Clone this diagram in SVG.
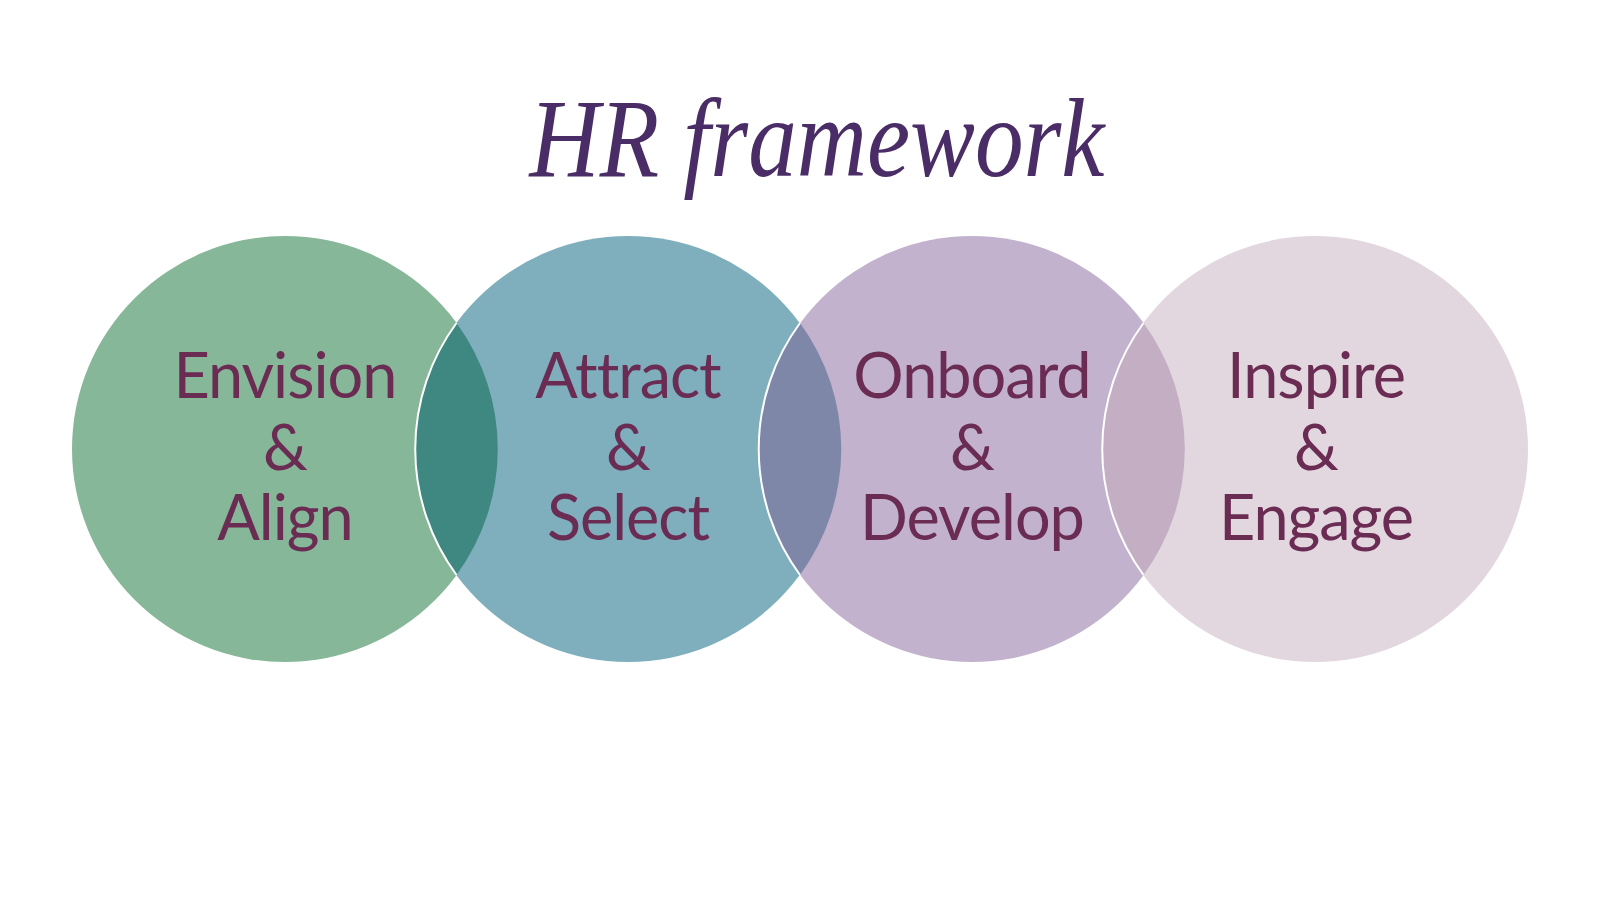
<svg xmlns="http://www.w3.org/2000/svg" width="1600" height="900" viewBox="0 0 1600 900">
<style>
.lbl{font-family:Lato,"Open Sans","Liberation Sans",sans-serif;font-size:63px;letter-spacing:-1px;fill:#6b2c54;text-anchor:middle}
.edge{fill:none;stroke:#ffffff;stroke-width:2}
.title{font-family:"Liberation Serif",serif;font-style:italic;font-size:112px;fill:#4a2d67}
</style>
<rect width="1600" height="900" fill="#ffffff"/>
<g id="circle-envision"><circle cx="285" cy="449" r="213" fill="#86b798"/></g>
<g id="circle-attract"><circle cx="628" cy="449" r="213" fill="#7faebd"/></g>
<g id="circle-onboard"><circle cx="972" cy="449" r="213" fill="#c2b2cd"/></g>
<g id="circle-inspire"><circle cx="1315" cy="449" r="213" fill="#e2d7de"/></g>
<g id="overlaps">
<path d="M456.5,323 A213,213 0 0 0 456.5,575 A213,213 0 0 0 456.5,323 Z" fill="#3f8781"/>
<path d="M800,323 A213,213 0 0 0 800,575 A213,213 0 0 0 800,323 Z" fill="#7f87a9"/>
<path d="M1143.5,323 A213,213 0 0 0 1143.5,575 A213,213 0 0 0 1143.5,323 Z" fill="#c3aec4"/>
<path class="edge" d="M456.5,323 A213,213 0 0 0 456.5,575"/>
<path class="edge" d="M800,323 A213,213 0 0 0 800,575"/>
<path class="edge" d="M1143.5,323 A213,213 0 0 0 1143.5,575"/>
</g>
<g id="labels">
<text class="lbl" x="285" y="398">Envision</text>
<text class="lbl" x="285" y="470">&amp;</text>
<text class="lbl" x="285" y="540">Align</text>
<text class="lbl" x="628" y="398">Attract</text>
<text class="lbl" x="628" y="470">&amp;</text>
<text class="lbl" x="628" y="540">Select</text>
<text class="lbl" x="972" y="398">Onboard</text>
<text class="lbl" x="972" y="470">&amp;</text>
<text class="lbl" x="972" y="540">Develop</text>
<text class="lbl" x="1316" y="398">Inspire</text>
<text class="lbl" x="1316" y="470">&amp;</text>
<text class="lbl" x="1316" y="540">Engage</text>
</g>
<g id="title"><text class="title" x="817" y="176" text-anchor="middle" textLength="575" lengthAdjust="spacingAndGlyphs">HR framework</text></g>
</svg>
